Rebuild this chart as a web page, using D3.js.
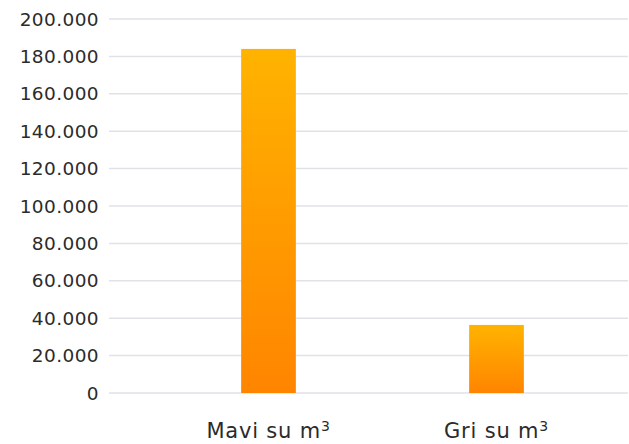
<!DOCTYPE html>
<html>
<head>
<meta charset="utf-8">
<script src="https://cdn.jsdelivr.net/npm/d3@7"></script>
<style>
  body { margin: 0; background: #fff; }
  text { font-family: "DejaVu Sans", sans-serif; fill: #2b2b2b; }
</style>
</head>
<body>
<div id="chart"></div>
<script>
// chart data
var categories = ["Mavi su m", "Gri su m"];
var values = [184000, 36400];
var yTicks = [0, 20000, 40000, 60000, 80000, 100000, 120000, 140000, 160000, 180000, 200000];

var width = 629, height = 444;

var svg = d3.select("#chart")
    .append("svg")
    .attr("width", width)
    .attr("height", height);

// gradient for the bars
var grad = svg.append("defs").append("linearGradient")
    .attr("id", "barGrad")
    .attr("x1", 0).attr("y1", 0).attr("x2", 0).attr("y2", 1);
grad.append("stop").attr("offset", "0%").attr("stop-color", "#ffb300");
grad.append("stop").attr("offset", "100%").attr("stop-color", "#ff8500");

var y = d3.scaleLinear()
    .domain([0, 200000])
    .range([393, 19]);

var x = d3.scaleBand()
    .domain(categories)
    .range([154.5, 610.5])
    .paddingInner(0.76)
    .paddingOuter(0.38);

var fmt = function(d) { return d3.format(",")(d).replace(/,/g, "."); };

// gridlines
svg.append("g")
    .selectAll("line")
    .data(yTicks)
    .enter()
    .append("line")
    .attr("x1", 109)
    .attr("x2", 628)
    .attr("y1", function(d) { return y(d); })
    .attr("y2", function(d) { return y(d); })
    .attr("stroke", "#e1e1e8")
    .attr("stroke-width", 1.5);

// y labels
svg.append("g")
    .selectAll("text")
    .data(yTicks)
    .enter()
    .append("text")
    .attr("x", 99)
    .attr("y", function(d) { return y(d); })
    .attr("dy", "0.36em")
    .attr("text-anchor", "end")
    .style("font-size", "18.5px")
    .style("letter-spacing", "0.4px")
    .text(fmt);

// bars
svg.selectAll("rect.bar")
    .data(values)
    .enter()
    .append("rect")
    .attr("class", "bar")
    .attr("x", function(d, i) { return x(categories[i]); })
    .attr("y", function(d) { return y(d); })
    .attr("width", x.bandwidth())
    .attr("height", function(d) { return y(0) - y(d); })
    .attr("fill", "url(#barGrad)");

// category labels with superscript 3
var lab = svg.append("g")
    .selectAll("text")
    .data(categories)
    .enter()
    .append("text")
    .attr("x", function(d) { return x(d) + x.bandwidth() / 2; })
    .attr("y", 438)
    .attr("text-anchor", "middle")
    .style("font-size", "21px")
    .style("letter-spacing", "0.8px");
lab.append("tspan").text(function(d) { return d; });
lab.append("tspan")
    .attr("dy", "-0.5em")
    .style("font-size", "14px")
    .text("3");
</script>
</body>
</html>
